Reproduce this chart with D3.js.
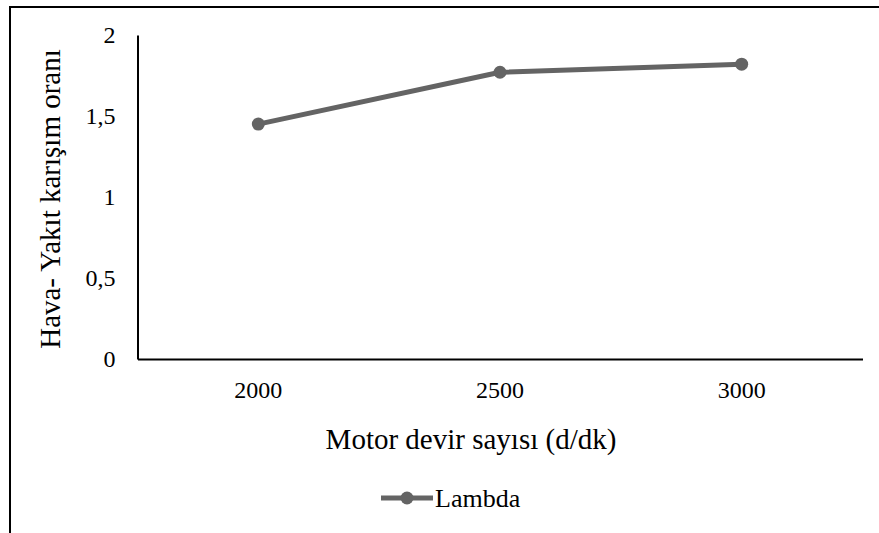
<!DOCTYPE html>
<html>
<head>
<meta charset="utf-8">
<script src="https://cdn.jsdelivr.net/npm/d3@7"></script>
<style>
  html, body { margin: 0; padding: 0; background: #fff; }
  svg { display: block; }
</style>
</head>
<body>
<svg id="chart" width="879" height="533"></svg>
<script>
// Engine speed categories and lambda (air-fuel ratio) readings
const categories = ["2000", "2500", "3000"];
const lambdaValues = [1.45, 1.77, 1.82];
const yTicks = [0, 0.5, 1, 1.5, 2];
const seriesName = "Lambda";

const W = 879, H = 533;
const plot = { left: 137.5, right: 862.5, top: 35, bottom: 359 };
const lineColor = "#646464";
const serif = "'Liberation Serif', 'Times New Roman', Times, serif";

const svg = d3.select("#chart");

// outer frame (left and top edges visible)
svg.append("path")
  .attr("d", `M10,${H} L10,7 L${W},7`)
  .attr("fill", "none")
  .attr("stroke", "#000")
  .attr("stroke-width", 2);

const x = d3.scaleBand().domain(categories).range([plot.left, plot.right]);
const y = d3.scaleLinear().domain([0, 2]).range([plot.bottom, plot.top]);

// y axis
const yAxis = svg.append("g")
  .attr("transform", `translate(${plot.left},0)`)
  .call(d3.axisLeft(y).tickValues(yTicks).tickSize(0).tickPadding(22)
    .tickFormat(d => String(d).replace(".", ",")));
yAxis.select(".domain").attr("stroke", "#000").attr("stroke-width", 2);
yAxis.selectAll("text").style("font-family", serif).style("font-size", "24px").style("fill", "#000");

// x axis
const xAxis = svg.append("g")
  .attr("transform", `translate(0,${plot.bottom})`)
  .call(d3.axisBottom(x).tickSize(0).tickPadding(22));
xAxis.select(".domain").attr("stroke", "#000").attr("stroke-width", 2);
xAxis.selectAll("text").style("font-family", serif).style("font-size", "24px").style("fill", "#000");

// axis titles
svg.append("text")
  .attr("x", 471)
  .attr("y", 449)
  .attr("text-anchor", "middle")
  .style("font-family", serif)
  .style("font-size", "29px")
  .text("Motor devir sayısı (d/dk)");

svg.append("text")
  .attr("transform", `translate(60,199) rotate(-90)`)
  .attr("text-anchor", "middle")
  .style("font-family", serif)
  .style("font-size", "29px")
  .text("Hava- Yakıt karışım oranı");

// series line and markers
const cx = d => x(d) + x.bandwidth() / 2;
const data = categories.map((c, i) => ({ c, v: lambdaValues[i] }));

svg.append("path")
  .datum(data)
  .attr("d", d3.line().x(d => cx(d.c)).y(d => y(d.v)))
  .attr("fill", "none")
  .attr("stroke", lineColor)
  .attr("stroke-width", 5)
  .attr("stroke-linejoin", "round");

svg.selectAll("circle.pt")
  .data(data)
  .join("circle")
  .attr("class", "pt")
  .attr("cx", d => cx(d.c))
  .attr("cy", d => y(d.v))
  .attr("r", 6.5)
  .attr("fill", lineColor);

// legend
const lg = svg.append("g").attr("transform", "translate(381,498)");
lg.append("line").attr("x1", 0).attr("x2", 52).attr("y1", 0).attr("y2", 0)
  .attr("stroke", lineColor).attr("stroke-width", 5);
lg.append("circle").attr("cx", 26).attr("cy", 0).attr("r", 6.5).attr("fill", lineColor);
lg.append("text").attr("x", 54).attr("y", 8.5)
  .style("font-family", serif).style("font-size", "26px").text(seriesName);
</script>
</body>
</html>
